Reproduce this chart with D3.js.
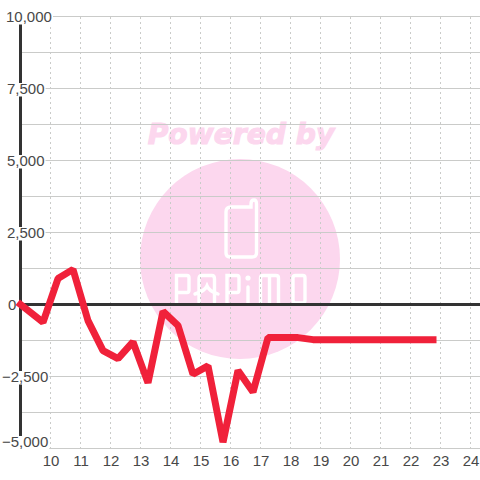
<!DOCTYPE html>
<html><head><meta charset="utf-8"><script src="https://cdn.jsdelivr.net/npm/d3@7"></script>
<style>html,body{margin:0;padding:0;background:#fff}svg{display:block}</style></head>
<body><svg id="c" width="480" height="480"></svg>
<script>
const hours=[9,9.75,10.25,10.75,11.25,11.75,12.25,12.75,13.25,13.75,14.25,14.75,15.25,15.75,16.25,16.75,17.25,17.75,18.25,18.75,19.25,19.75,20.25,20.75,21.25,21.75,22.25,22.75];
const balance=[0,-620,900,1220,-560,-1600,-1880,-1300,-2720,-240,-730,-2420,-2130,-4780,-2290,-3040,-1150,-1150,-1150,-1220,-1220,-1220,-1220,-1220,-1220,-1220,-1220,-1220];
const yTicks=[10000,7500,5000,2500,0,-2500,-5000];
const yGrid=[10000,8750,7500,6250,5000,3750,2500,1250,-1250,-2500,-3750,-5000];
const xTicks=[10,11,12,13,14,15,16,17,18,19,20,21,22,23,24];
const svg=d3.select("#c");
const x=d3.scaleLinear().domain([9,24]).range([20.5,470.5]);
const y=d3.scaleLinear().domain([10000,-5000]).range([16.5,448.5]);
const gray="#cacbc9",dark="#333333",pink="#fcd7ee";
// watermark
svg.append("text").attr("x",241).attr("y",144).attr("text-anchor","middle")
 .attr("font-family","'DejaVu Sans'").attr("font-weight","bold").attr("font-style","italic")
 .attr("font-size",28.2).attr("fill",pink).attr("stroke",pink).attr("stroke-width",1.1).text("Powered by");
svg.append("circle").attr("cx",240).attr("cy",259).attr("r",100).attr("fill",pink);
const logo=svg.append("g").attr("fill","none").attr("stroke","#fff").attr("stroke-width",3.4).attr("stroke-linecap","round");
logo.append("path").attr("d","M231 207H251V204Q251 200 254 200Q256.5 200 256.5 204V253Q256.5 257 252 257H230Q226 257 226 253V212Q226 207 231 207Z");
[
 "M176.5 303V275.5H187Q189 275.5 189 278V290Q189 292.5 187 292.5H176.5", // P
 "M199 302V279Q199 275.5 202 275.5H212Q214.5 275.5 214.5 279V302M195 294Q205 291 207 286Q209 291 218 294", // A
 "M227 303V275.5H237Q239 275.5 239 278V290Q239 292.5 237 292.5H227", // P
 "M248 287V303", // i
 "M260.5 303V278Q260.5 275.5 263 275.5H276Q278.5 275.5 278.5 278V303M269.5 275.5V303", // M
 "M293 278Q293 275.5 295.5 275.5H303Q305 275.5 305 278V300Q305 303 303 303H295.5Q293 303 293 300Z" // O
].forEach(d=>logo.append("path").attr("d",d));
svg.append("circle").attr("cx",248).attr("cy",278).attr("r",2.6).attr("fill","#fff");
// grid
svg.append("g").selectAll("line").data(yGrid).join("line")
 .attr("x1",d=>d===10000?53:(yTicks.includes(d)?45:22)).attr("x2",480)
 .attr("y1",d=>y(d)).attr("y2",d=>y(d)).attr("stroke",gray).attr("stroke-width",1);
svg.append("g").selectAll("line").data(xTicks).join("line")
 .attr("x1",d=>x(d)).attr("x2",d=>x(d)).attr("y1",17).attr("y2",448)
 .attr("stroke",gray).attr("stroke-width",1).attr("stroke-dasharray","2 3");
// axes
svg.append("line").attr("x1",20).attr("x2",480).attr("y1",y(0)).attr("y2",y(0)).attr("stroke",dark).attr("stroke-width",3);
svg.append("line").attr("x1",20.5).attr("x2",20.5).attr("y1",16).attr("y2",436).attr("stroke",dark).attr("stroke-width",3);
// y labels with white backing
const lab=svg.append("g").attr("font-family","'Liberation Sans'").attr("font-size",15).attr("fill","#484848");
yTicks.forEach(v=>{
  const base=v===-5000?447:y(v)+5.5;
  const t=lab.append("text").attr("y",base).attr("x",v<0?2:(v===0?8:(v===10000?6:7))).text(d3.format(",")(v));
  const b=t.node().getBBox();
  lab.insert("rect","text").attr("x",b.x-1).attr("y",base-11).attr("width",b.width+2).attr("height",13.5).attr("fill","#fff");
});
// x labels
lab.selectAll("text.xl").data(xTicks).join("text").attr("class","xl").attr("x",d=>x(d)+.5).attr("y",466).attr("text-anchor","middle").text(d=>d);
// series
const line=d3.line().x((d,i)=>x(hours[i])).y(d=>y(d));
svg.append("path").datum(balance).attr("d",line).attr("fill","none").attr("stroke","#f0213a").attr("stroke-width",7).attr("stroke-linejoin","bevel").attr("stroke-linecap","square");
</script></body></html>
